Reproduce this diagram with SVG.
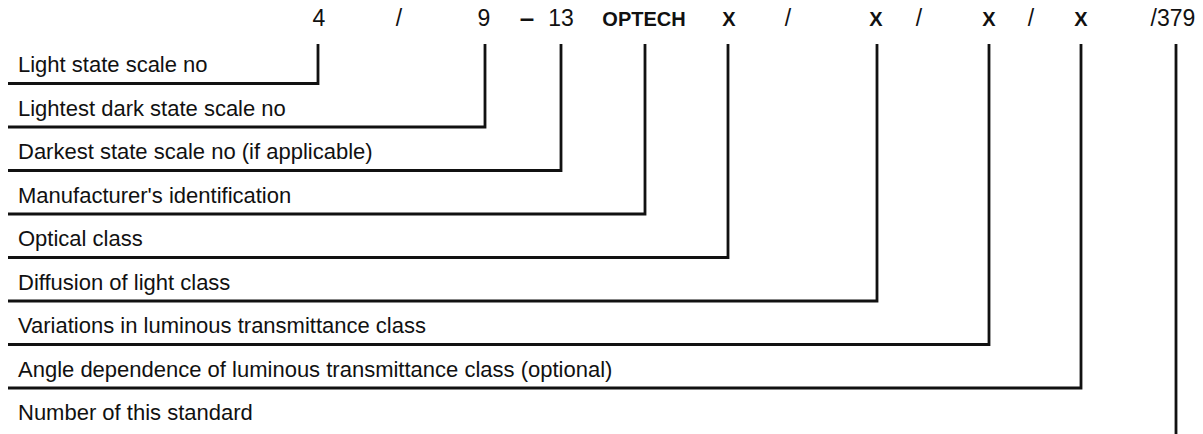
<svg xmlns="http://www.w3.org/2000/svg" width="1203" height="434" viewBox="0 0 1203 434">
<style>
.t{font-family:"Liberation Sans",Arial,sans-serif;font-size:22px;fill:#111}
.h{font-family:"Liberation Sans",Arial,sans-serif;font-size:23px;fill:#111}
.b{font-family:"Liberation Sans",Arial,sans-serif;font-size:20px;font-weight:bold;fill:#111}
.d{font-family:"Liberation Sans",Arial,sans-serif;font-size:26px;font-weight:bold;fill:#111}
.c{fill:none;stroke:#111;stroke-width:2.8;stroke-linejoin:miter;stroke-linecap:butt}
</style>
<rect width="1203" height="434" fill="#fff"/>
<g id="code">
<text class="h" x="319" y="26" text-anchor="middle">4</text>
<text class="h" x="399" y="26" text-anchor="middle">/</text>
<text class="h" x="484" y="26" text-anchor="middle">9</text>
<text class="d" x="527" y="27" text-anchor="middle">–</text>
<text class="h" x="561" y="26" text-anchor="middle">13</text>
<text class="b" x="644" y="26" text-anchor="middle">OPTECH</text>
<text class="b" x="729" y="26" text-anchor="middle">X</text>
<text class="h" x="788" y="26" text-anchor="middle">/</text>
<text class="b" x="876" y="26" text-anchor="middle">X</text>
<text class="h" x="919" y="26" text-anchor="middle">/</text>
<text class="b" x="989" y="26" text-anchor="middle">X</text>
<text class="h" x="1031" y="26" text-anchor="middle">/</text>
<text class="b" x="1081" y="26" text-anchor="middle">X</text>
<text class="h" x="1173" y="26" text-anchor="middle">/379</text>
</g>
<g id="n1"><text class="t" x="18" y="72">Light state scale no</text></g>
<g id="n2"><text class="t" x="18" y="116">Lightest dark state scale no</text></g>
<g id="n3"><text class="t" x="18" y="159">Darkest state scale no (if applicable)</text></g>
<g id="n4"><text class="t" x="18" y="203">Manufacturer's identification</text></g>
<g id="n5"><text class="t" x="18" y="246">Optical class</text></g>
<g id="n6"><text class="t" x="18" y="290">Diffusion of light class</text></g>
<g id="n7"><text class="t" x="18" y="333">Variations in luminous transmittance class</text></g>
<g id="n8"><text class="t" x="18" y="377">Angle dependence of luminous transmittance class (optional)</text></g>
<g id="n9"><text class="t" x="18" y="420">Number of this standard</text></g>
<g id="connectors" class="c">
<path d="M318 44V83.5H8"/>
<path d="M485 44V127H8"/>
<path d="M561 44V170.5H8"/>
<path d="M645 44V214H8"/>
<path d="M728 44V257.5H8"/>
<path d="M877 44V301H8"/>
<path d="M989 44V344.5H8"/>
<path d="M1081 44V388H8"/>
<path d="M1176 44V434"/>
</g>
</svg>
